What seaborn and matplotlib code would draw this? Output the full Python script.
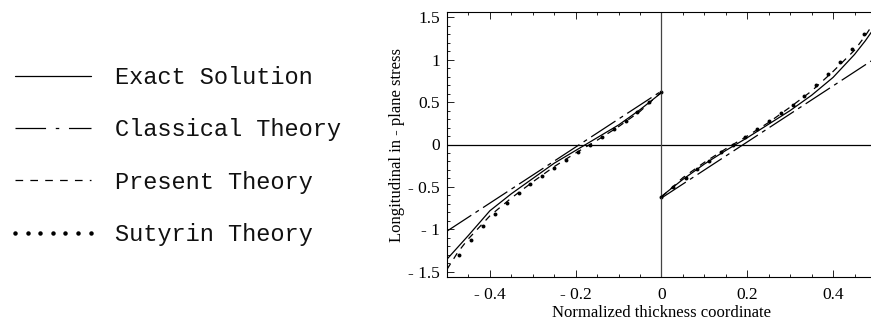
import matplotlib
matplotlib.use("Agg")
import numpy as np
import pandas as pd
import seaborn as sns
import matplotlib.pyplot as plt
from matplotlib.lines import Line2D
from matplotlib.ticker import MultipleLocator, FixedLocator, FuncFormatter

# ---------------- data ----------------
z_left = [-0.5, -0.475, -0.45, -0.4, -0.35, -0.3, -0.25, -0.2, -0.15, -0.1, -0.05, 0.0]
z_right = [0.0, 0.05, 0.1, 0.15, 0.2, 0.25, 0.3, 0.35, 0.4, 0.45, 0.475, 0.5]

exact_left = [-1.35, -1.21, -1.07, -0.78, -0.58, -0.40, -0.22, -0.07, 0.08, 0.23, 0.41, 0.61]
exact_right = [-0.61, -0.41, -0.23, -0.07, 0.08, 0.24, 0.40, 0.58, 0.79, 1.06, 1.22, 1.40]

present_left = [-1.47, -1.27, -1.11, -0.84, -0.63, -0.44, -0.26, -0.10, 0.05, 0.21, 0.39, 0.62]
present_right = [-0.62, -0.39, -0.21, -0.05, 0.10, 0.26, 0.44, 0.63, 0.86, 1.11, 1.28, 1.47]

classical_z_left = [-0.5, 0.0]
classical_left = [-1.02, 0.63]
classical_z_right = [0.0, 0.5]
classical_right = [-0.63, 1.02]

sutyrin_z_left = [-0.472, -0.444, -0.417, -0.389, -0.361, -0.333, -0.306, -0.278, -0.25,
                  -0.222, -0.194, -0.167, -0.139, -0.111, -0.083, -0.056, -0.028, 0.0]
sutyrin_left = [-1.30, -1.13, -0.96, -0.82, -0.69, -0.57, -0.46, -0.37, -0.28,
                -0.18, -0.09, 0.0, 0.09, 0.185, 0.28, 0.38, 0.50, 0.62]
sutyrin_z_right = [0.0, 0.028, 0.056, 0.083, 0.111, 0.139, 0.167, 0.194, 0.222,
                   0.25, 0.278, 0.306, 0.333, 0.361, 0.389, 0.417, 0.444, 0.472]
sutyrin_right = [-0.62, -0.50, -0.39, -0.29, -0.19, -0.09, 0.0, 0.09, 0.185,
                 0.28, 0.37, 0.47, 0.57, 0.70, 0.83, 0.97, 1.12, 1.30]

legend_labels = ["Exact Solution", "Classical Theory", "Present Theory", "Sutyrin Theory"]
x_major = [-0.4, -0.2, 0.0, 0.2, 0.4]
y_major = [-1.5, -1.0, -0.5, 0.0, 0.5, 1.0, 1.5]

# ---------------- style ----------------
sns.set_theme(style="white")
plt.rcParams["font.family"] = ["Liberation Serif", "DejaVu Serif"]
plt.rcParams["lines.scale_dashes"] = False

fig = plt.figure(figsize=(8.71, 3.24), dpi=100)
ax = fig.add_axes([447 / 871, 1 - 277 / 324, 424 / 871, 265 / 324])

LW = 0.9
dashdot = (0, (20.9, 3.6, 2.9, 3.6))
dashed = (0, (4.7, 4.3))

for zz, vv in [(z_left, exact_left), (z_right, exact_right)]:
    sns.lineplot(x=zz, y=vv, ax=ax, color="black", lw=LW, sort=False, estimator=None)
for zz, vv in [(classical_z_left, classical_left), (classical_z_right, classical_right)]:
    sns.lineplot(x=zz, y=vv, ax=ax, color="black", lw=LW, linestyle=dashdot,
                 sort=False, estimator=None)
for zz, vv in [(z_left, present_left), (z_right, present_right)]:
    sns.lineplot(x=zz, y=vv, ax=ax, color="black", lw=LW, linestyle=dashed,
                 sort=False, estimator=None)
for zz, vv in [(sutyrin_z_left, sutyrin_left), (sutyrin_z_right, sutyrin_right)]:
    sns.scatterplot(x=zz, y=vv, ax=ax, color="black", s=8, linewidth=0, marker="o")

ax.axhline(0, color="black", lw=0.9, zorder=1)
ax.axvline(0, color="#444444", lw=0.9, zorder=1)

ax.set_xlim(-0.5, 0.4884)
ax.set_ylim(-1.56, 1.56)


def fmt(v, pos=None):
    if abs(v) < 1e-9:
        return "0"
    s = f"{abs(v):g}"
    return ("- " if v < 0 else "") + s


ax.xaxis.set_major_locator(FixedLocator(x_major))
ax.xaxis.set_minor_locator(MultipleLocator(0.05))
ax.yaxis.set_major_locator(FixedLocator(y_major))
ax.yaxis.set_minor_locator(MultipleLocator(0.1))
ax.xaxis.set_major_formatter(FuncFormatter(fmt))
ax.yaxis.set_major_formatter(FuncFormatter(fmt))

ax.tick_params(axis="both", which="both", direction="in", color="black", width=0.6,
               labelsize=12.5, labelcolor="black")
ax.tick_params(axis="x", which="both", top=True, bottom=True, pad=7)
ax.tick_params(axis="y", which="both", left=True, right=False, pad=5)
ax.tick_params(which="major", length=5)
ax.tick_params(which="minor", length=2.5)

for side in ["top", "left", "bottom"]:
    ax.spines[side].set_color("black")
    ax.spines[side].set_linewidth(0.8)
ax.spines["right"].set_visible(False)

ax.set_xlabel("Normalized thickness coordinate", fontsize=12, color="black")
ax.set_ylabel("Longitudinal in - plane stress", fontsize=12, color="black")
ax.yaxis.set_label_coords(-0.099, 0.5)
ax.xaxis.set_label_coords(0.505, -0.104)

# ---------------- legend ----------------
handles = [
    Line2D([], [], color="black", lw=LW),
    Line2D([], [], color="black", lw=LW, linestyle=(0, (22, 7, 2.5, 7))),
    Line2D([], [], color="black", lw=LW, linestyle=(0, (5.5, 5.2))),
    Line2D([], [], color="black", lw=0, marker="o", markersize=2.2, linestyle="none"),
]
leg = fig.legend(handles, legend_labels, loc="upper left",
                 bbox_to_anchor=(8 / 871, 1 - 66 / 324),
                 frameon=False, prop={"family": "Liberation Mono", "size": 17},
                 handlelength=3.8, handletextpad=0.72, labelspacing=1.24,
                 borderpad=0, borderaxespad=0, numpoints=7)
for t in leg.get_texts():
    t.set_color("#111111")

fig.savefig("out.png", dpi=100)
